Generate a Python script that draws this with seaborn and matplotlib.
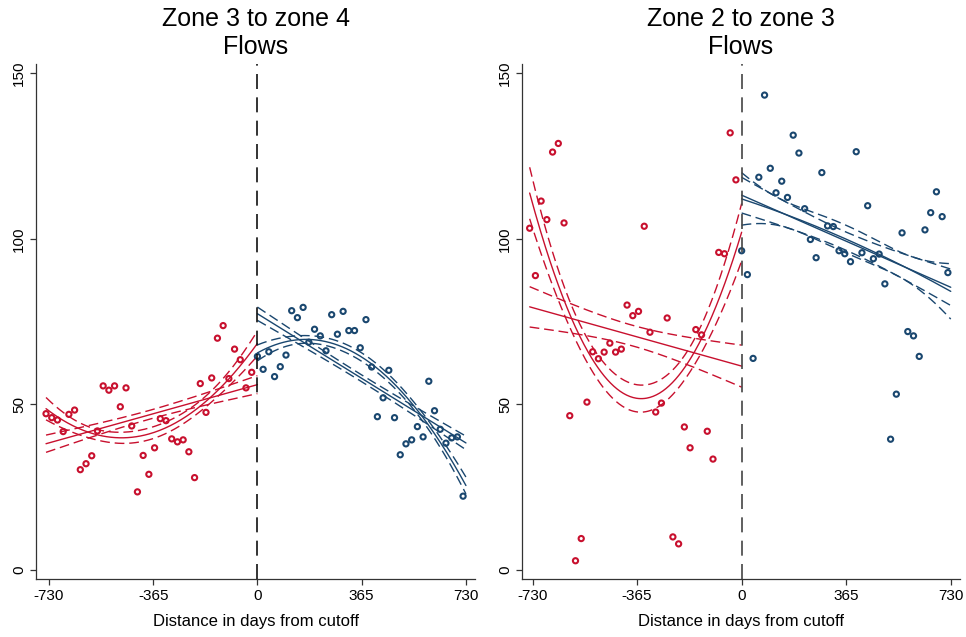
import numpy as np
import pandas as pd
import matplotlib
matplotlib.use("Agg")
import matplotlib.pyplot as plt
import seaborn as sns

# Binned means, 20-day bins
days_pre = [-740, -720, -700, -680, -660, -640, -620, -600, -580, -560, -540, -520,
            -500, -480, -460, -440, -420, -400, -380, -360, -340, -320, -300, -280,
            -260, -240, -220, -200, -180, -160, -140, -120, -100, -80, -60, -40, -20]
days_post = [0, 20, 40, 60, 80, 100, 120, 140, 160, 180, 200, 220, 240, 260, 280,
             300, 320, 340, 360, 380, 400, 420, 440, 460, 480, 500, 520, 540, 560,
             580, 600, 620, 640, 660, 680, 700, 720]

# Zone 3 to zone 4
z34_pre = [47.2, 46.0, 45.3, 41.8, 47.0, 48.3, 30.3, 32.1, 34.5, 42.0, 55.6, 54.3,
           55.6, 49.3, 55.0, 43.5, 23.6, 34.6, 28.9, 36.9, 45.7, 45.1, 39.6, 38.7,
           39.3, 35.7, 27.9, 56.3, 47.6, 58.0, 70.0, 73.8, 57.8, 66.7, 63.5, 55.0, 59.7]
z34_post = [64.5, 60.6, 65.9, 58.4, 61.4, 64.9, 78.3, 76.2, 79.3, 68.8, 72.7, 70.7,
            66.2, 77.1, 71.2, 78.1, 72.3, 72.3, 67.1, 75.6, 61.3, 46.3, 52.0, 60.3,
            46.0, 34.8, 38.1, 39.3, 43.3, 40.2, 57.0, 48.1, 42.5, 38.3, 39.9, 40.2, 22.3]

# Zone 2 to zone 3
z23_pre = [103.2, 88.9, 111.4, 105.8, 126.2, 128.8, 104.8, 46.6, 2.8, 9.5, 50.7, 65.9,
           63.8, 65.8, 68.5, 65.8, 66.7, 80.0, 76.8, 78.1, 103.8, 71.8, 47.7, 50.4,
           76.1, 10.0, 7.9, 43.2, 36.9, 72.6, 71.0, 41.9, 33.5, 95.9, 95.5, 132.0, 117.8]
z23_post = [96.4, 89.2, 63.9, 118.6, 143.4, 121.3, 113.9, 117.4, 112.5, 131.3, 125.9,
            109.1, 99.8, 94.3, 120.0, 103.9, 103.7, 96.4, 95.5, 93.1, 126.3, 95.8,
            110.0, 94.0, 95.4, 86.4, 39.5, 53.1, 101.8, 72.0, 70.7, 64.5, 102.7,
            107.9, 114.2, 106.7, 89.8]

# the original CIs come from the daily (unbinned) data, so they are narrower
# than CIs on the bin means; shrink factors (pre, post)
ci_shrink_34 = [0.36, 0.30]
ci_shrink_23 = [0.27, 0.40]

titles = ["Zone 3 to zone 4\nFlows", "Zone 2 to zone 3\nFlows"]
xticks = [-730, -365, 0, 365, 730]
yticks = [0, 50, 100, 150]

red = "#C8102E"
blue = "#1A476F"


def fit_ci(x, y, deg, grid, shrink):
    # OLS polynomial fit with 95% CI of the mean prediction
    x = np.asarray(x, float)
    y = np.asarray(y, float)
    X = np.vander(x, deg + 1)
    beta, *_ = np.linalg.lstsq(X, y, rcond=None)
    resid = y - X @ beta
    s2 = resid @ resid / (len(x) - deg - 1)
    cov = s2 * np.linalg.inv(X.T @ X)
    G = np.vander(grid, deg + 1)
    yhat = G @ beta
    se = np.sqrt(np.einsum("ij,jk,ik->i", G, cov, G)) * shrink
    return yhat, yhat - 2.03 * se, yhat + 2.03 * se


sns.set_style("white")
plt.rcParams["font.family"] = ["Liberation Sans", "DejaVu Sans"]
plt.rcParams["text.color"] = "black"
plt.rcParams["xtick.labelcolor"] = "black"
plt.rcParams["ytick.labelcolor"] = "black"
plt.rcParams["axes.labelcolor"] = "black"

fig = plt.figure(figsize=(9.66, 6.37), dpi=100)
ax1 = fig.add_axes([0.0373, 0.0911, 0.4545, 0.8085])
ax2 = fig.add_axes([0.5400, 0.0911, 0.4537, 0.8085])

panels = [(ax1, z34_pre, z34_post, (-775, 762), ci_shrink_34),
          (ax2, z23_pre, z23_post, (-768, 762), ci_shrink_23)]

for i, (ax, pre, post, xlim, shrink) in enumerate(panels):
    df = pd.DataFrame({
        "days": days_pre + days_post,
        "flow": pre + post,
        "side": ["pre"] * len(pre) + ["post"] * len(post),
    })

    # fitted lines with CI, linear and quadratic on each side
    sides = [("pre", red, min(days_pre), 0, shrink[0]),
             ("post", blue, 0, max(days_post) + 10, shrink[1])]
    for side, col, lo, hi, shr in sides:
        d = df[df["side"] == side]
        grid = np.linspace(lo, hi, 200)
        for deg in [1, 2]:
            yhat, ylo, yhi = fit_ci(d["days"], d["flow"], deg, grid, shr)
            sns.lineplot(x=grid, y=yhat, ax=ax, color=col, lw=1.0,
                         estimator=None, sort=False)
            for band in [ylo, yhi]:
                sns.lineplot(x=grid, y=band, ax=ax, color=col, lw=1.0,
                             estimator=None, sort=False,
                             linestyle=(0, (7, 3.5)))

    sns.scatterplot(data=df, x="days", y="flow", ax=ax, legend=False,
                    marker="o", s=14, linewidth=1.5, zorder=3)
    pts = ax.collections[-1]
    pts.set_facecolor("none")
    pts.set_edgecolor([red] * len(pre) + [blue] * len(post))

    ax.axvline(0, color="#111111" if i == 0 else "#444444", lw=1.2,
               linestyle=(0, (9, 5)), zorder=4)

    ax.set_xlim(*xlim)
    ax.set_ylim(-2.7, 152.8)
    ax.set_xticks(xticks)
    ax.set_yticks(yticks)
    ax.set_xticklabels([str(t) for t in xticks], fontsize=11)
    ax.set_yticklabels([str(t) for t in yticks], fontsize=11, rotation=90,
                       va="center")
    ax.tick_params(axis="both", direction="out", length=4, width=0.9,
                   color="#333333", left=True, bottom=True, pad=3)
    ax.set_xlabel("Distance in days from cutoff", fontsize=12, labelpad=8)
    ax.set_ylabel("")
    ax.set_title(titles[i], fontsize=18, pad=7)
    for s in ["top", "right"]:
        ax.spines[s].set_visible(False)
    for s in ["left", "bottom"]:
        ax.spines[s].set_color("#333333")
        ax.spines[s].set_linewidth(0.9)

fig.savefig("out.png", dpi=100, facecolor="white")
